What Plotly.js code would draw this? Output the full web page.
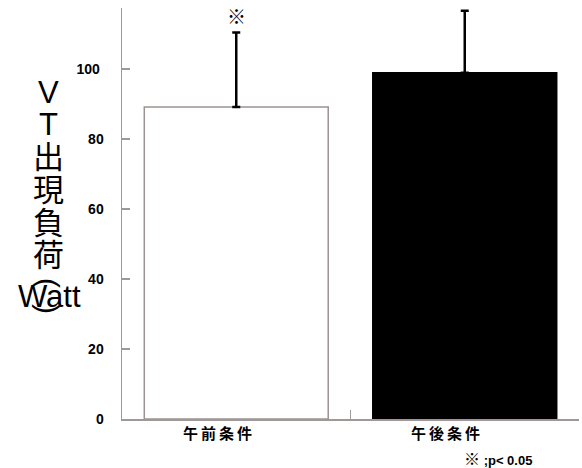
<!DOCTYPE html>
<html>
<head>
<meta charset="utf-8">
<script src="https://cdn.plot.ly/plotly-3.0.1.min.js"></script>
<style>html,body{margin:0;padding:0;background:#fff}#chart{width:582px;height:468px}</style>
</head>
<body>
<div id="chart"></div>
<script>
var categories = ["午前条件", "午後条件"];
var means = [89.1, 98.9];
var sdUpper = [21.3, 17.7];
var yTicks = [0, 20, 40, 60, 80, 100];
var yTickText = ["0", "20", "40", "60", "80", "100\u00a0"];
var yTitleParts = ["V", "T", "出", "現", "負", "荷", "(", "Watt", ")"];
var sigMark = "※";
var footnoteMark = "※";
var footnoteText = " ;p< 0.05";

var W = 582, H = 468;
var L = 122, R = 3, T = 8, B = 49;
var pw = W - L - R, ph = H - T - B;
function px(x) { return (x - L) / pw; }
function py(y) { return (H - B - y) / ph; }

var titlePos = [[48, 93], [48, 124], [48, 157], [48, 190], [48, 223], [48, 256], [49, 283], [49, 297], [49, 309]];
var titleFont = {family: "Liberation Sans, Arial, Noto Sans CJK JP, sans-serif", size: 31, color: "#000"};

var annotations = yTitleParts.map(function (t, i) {
  var paren = (t === "(" || t === ")");
  return {text: t, xref: "paper", yref: "paper", x: px(titlePos[i][0]), y: py(titlePos[i][1]),
    xanchor: "center", yanchor: "middle", showarrow: false,
    textangle: paren ? 90 : 0,
    font: paren ? {family: "Liberation Sans, Arial, sans-serif", size: 30, color: "#000"} : titleFont};
});
categories.forEach(function (c, i) {
  annotations.push({text: "<b>" + c.split("").join("\u2009") + "</b>", xref: "x", yref: "paper", x: i, y: py(432),
    xanchor: "center", yanchor: "middle", xshift: -19, showarrow: false,
    font: {family: "Noto Sans CJK JP", size: 15, color: "#000"}});
});
annotations.push({text: "<b>" + sigMark + "</b>", xref: "x", yref: "paper", x: 0, y: py(16), xanchor: "center", yanchor: "middle",
  showarrow: false, font: {family: "Noto Sans CJK JP", size: 19, color: "#000"}});
annotations.push({text: "<b><span style='font-size:16px'>" + footnoteMark + "</span>" + footnoteText + "</b>",
  xref: "paper", yref: "paper", x: px(462), y: py(459),
  xanchor: "left", yanchor: "middle", showarrow: false,
  font: {family: "Liberation Sans, Noto Sans CJK JP, sans-serif", size: 13, color: "#000"}});

var trace = {
  type: "bar",
  x: categories,
  y: means,
  marker: {color: ["#ffffff", "#000000"], line: {color: ["#9a9391", "#000000"], width: 1.5}},
  error_y: {type: "data", symmetric: false, array: sdUpper, arrayminus: [0, 0], color: "#000", thickness: 2.5, width: 4},
  hoverinfo: "none"
};

var layout = {
  width: W, height: H,
  margin: {l: L, r: R, t: T, b: B},
  paper_bgcolor: "#fff", plot_bgcolor: "#fff",
  showlegend: false,
  bargap: 0.195,
  xaxis: {
    type: "category", showgrid: false, zeroline: false,
    showline: true, linecolor: "#a09896", linewidth: 1.5,
    ticks: "inside", tickson: "boundaries", ticklen: 9, tickcolor: "#a09896", tickwidth: 1.5,
    showticklabels: false
  },
  yaxis: {
    range: [0, 117.4], tickvals: yTicks, ticktext: yTickText,
    showgrid: false, zeroline: false,
    showline: true, linecolor: "#a09896", linewidth: 1.5,
    ticks: "inside", ticklen: 8, tickcolor: "#a09896", tickwidth: 1.5,
    tickfont: {family: "Liberation Sans, Arial, sans-serif", size: 14, color: "#000", weight: "bold"},
    ticklabelstandoff: 14
  },
  annotations: annotations
};

Plotly.newPlot("chart", [trace], layout, {displayModeBar: false, staticPlot: true});
</script>
</body>
</html>
